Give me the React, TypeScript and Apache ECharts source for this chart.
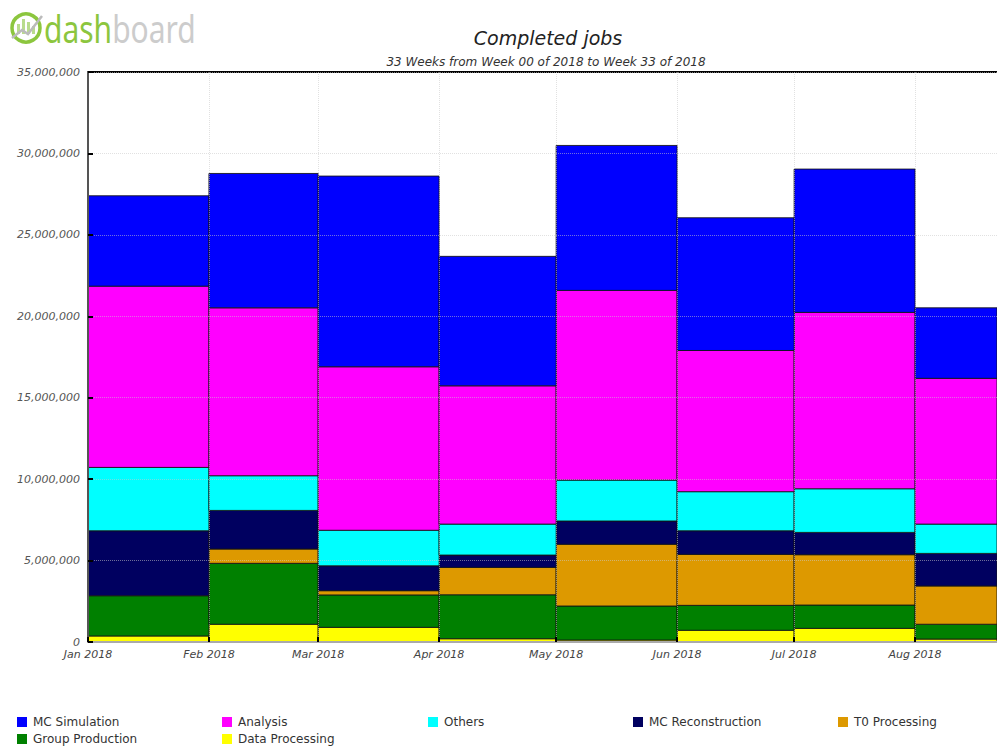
import React, { useEffect, useRef } from "react";
import * as echarts from "echarts";

const MONTH_STARTS = ["2018-01-01", "2018-02-01", "2018-03-01", "2018-04-01", "2018-05-01", "2018-06-01", "2018-07-01", "2018-08-01"];
const MONTH_ENDS = ["2018-02-01", "2018-03-01", "2018-04-01", "2018-05-01", "2018-06-01", "2018-07-01", "2018-08-01", "2018-09-01"];
const X_MIN = "2018-01-01";
const X_MAX = "2018-08-22";
const MONTH_NAMES = ["Jan", "Feb", "Mar", "Apr", "May", "Jun", "Jul", "Aug", "Sep", "Oct", "Nov", "Dec"];

// values per month (Jan..Aug 2018)
const mcSimulation = [5550000, 8250000, 11710000, 7950000, 8900000, 8150000, 8800000, 4330000];
const analysis = [11130000, 10310000, 10040000, 8490000, 11650000, 8670000, 10830000, 8950000];
const others = [3890000, 2130000, 2180000, 1900000, 2510000, 2400000, 2680000, 1800000];
const mcReconstruction = [3990000, 2370000, 1530000, 760000, 1430000, 1450000, 1370000, 2000000];
const t0Processing = [0, 880000, 260000, 1680000, 3790000, 3130000, 3090000, 2350000];
const groupProduction = [2470000, 3740000, 1990000, 2700000, 2090000, 1530000, 1430000, 910000];
const dataProcessing = [370000, 1090000, 900000, 200000, 120000, 720000, 840000, 180000];

// stacking order: bottom -> top
const STACK = [
  { name: "Data Processing", color: "#ffff00", values: dataProcessing },
  { name: "Group Production", color: "#008000", values: groupProduction },
  { name: "T0 Processing", color: "#dd9900", values: t0Processing },
  { name: "MC Reconstruction", color: "#000060", values: mcReconstruction },
  { name: "Others", color: "#00ffff", values: others },
  { name: "Analysis", color: "#ff00ff", values: analysis },
  { name: "MC Simulation", color: "#0000ff", values: mcSimulation },
];

const LEGEND_ROW1 = ["MC Simulation", "Analysis", "Others", "MC Reconstruction", "T0 Processing"];
const LEGEND_ROW2 = ["Group Production", "Data Processing"];
const LEGEND_COLS = [17, 222, 428, 633, 838];

const Y_MAX = 35000000;
const Y_STEP = 5000000;

const ts = (s: string) => {
  const [y, m, d] = s.split("-").map(Number);
  return Date.UTC(y, m - 1, d);
};

const fmtNum = (v: number) => String(Math.round(v)).replace(/\B(?=(\d{3})+(?!\d))/g, ",");

export default function App() {
  const ref = useRef<HTMLDivElement>(null);
  useEffect(() => {
    if (!ref.current) return;
    const chart = echarts.init(ref.current, null, { renderer: "svg" });

    const cum = MONTH_STARTS.map(() => 0);
    const series: any[] = STACK.map((s) => {
      const data = MONTH_STARTS.map((m, i) => {
        const lo = cum[i];
        const hi = lo + s.values[i];
        cum[i] = hi;
        return [ts(m), ts(MONTH_ENDS[i]), lo, hi];
      });
      return {
        type: "custom",
        name: s.name,
        itemStyle: { color: s.color },
        encode: { x: [0, 1], y: [2, 3] },
        z: 2,
        data,
        renderItem: (params: any, api: any) => {
          const p1 = api.coord([api.value(0), api.value(3)]);
          const p2 = api.coord([api.value(1), api.value(2)]);
          const cs = params.coordSys;
          const shape = echarts.graphic.clipRectByRect(
            { x: p1[0], y: p1[1], width: p2[0] - p1[0], height: p2[1] - p1[1] },
            { x: cs.x, y: cs.y, width: cs.width, height: cs.height }
          );
          if (!shape || api.value(3) - api.value(2) <= 0) return null;
          return {
            type: "rect",
            shape,
            style: { fill: api.visual("color"), stroke: "rgba(20,20,20,0.85)", lineWidth: 1 },
          };
        },
      };
    });

    const legendText = { fontFamily: "DejaVu Sans", fontSize: 12, lineHeight: 12, color: "#333", padding: [0, 0, 0, 1] };
    const legends: any[] = [];
    LEGEND_ROW1.forEach((n, i) =>
      legends.push({ data: [n], left: LEGEND_COLS[i], top: 716, itemWidth: 10, itemHeight: 10, icon: "rect", textStyle: legendText, padding: 0, selectedMode: false })
    );
    LEGEND_ROW2.forEach((n, i) =>
      legends.push({ data: [n], left: LEGEND_COLS[i], top: 733, itemWidth: 10, itemHeight: 10, icon: "rect", textStyle: legendText, padding: 0, selectedMode: false })
    );

    const green = "#8cc63e";
    chart.setOption({
      animation: false,
      useUTC: true,
      backgroundColor: "#fff",
      grid: { left: 88, top: 72, right: 0, bottom: 105 },
      legend: legends,
      graphic: [
        { type: "circle", shape: { cx: 26, cy: 28, r: 14 }, style: { fill: "none", stroke: green, lineWidth: 3.5 } },
        { type: "rect", shape: { x: 17, y: 24, width: 3, height: 10 }, style: { fill: "#b9dc8c" } },
        { type: "rect", shape: { x: 22, y: 19, width: 3, height: 15 }, style: { fill: "#b9dc8c" } },
        { type: "rect", shape: { x: 27, y: 22, width: 3, height: 12 }, style: { fill: "#b9dc8c" } },
        { type: "rect", shape: { x: 32, y: 26, width: 3, height: 8 }, style: { fill: "#b9dc8c" } },
        { type: "polyline", shape: { points: [[12, 38], [22, 30], [28, 34], [42, 16]] }, style: { fill: "none", stroke: "#bbbbbb", lineWidth: 2.5 } },
        {
          type: "text",
          x: 44,
          y: 29,
          scaleY: 1.25,
          style: {
            text: "{g|dash}{b|board}",
            verticalAlign: "middle",
            rich: {
              g: { fontFamily: "Noto Sans", fontSize: 30, fill: green, color: green },
              b: { fontFamily: "Noto Sans", fontSize: 30, fill: "#cccccc", color: "#cccccc" },
            },
          },
        },
        {
          type: "text",
          x: 548,
          y: 38,
          style: { text: "Completed jobs", fontFamily: "DejaVu Sans", fontStyle: "italic", fontSize: 19, fill: "#222", align: "center", verticalAlign: "middle" },
        },
        {
          type: "text",
          x: 546,
          y: 62,
          style: { text: "33 Weeks from Week 00 of 2018 to Week 33 of 2018", fontFamily: "DejaVu Sans", fontStyle: "italic", fontSize: 12, fill: "#333", align: "center", verticalAlign: "middle" },
        },
      ],
      xAxis: [
        {
          type: "time",
          min: ts(X_MIN),
          max: ts(X_MAX),
          minInterval: 28 * 86400000,
          z: 3,
          axisLine: { lineStyle: { color: "#aaaaaa", width: 2 } },
          axisTick: { inside: true, length: 5, lineStyle: { color: "#000", width: 2 } },
          axisLabel: {
            fontFamily: "DejaVu Sans",
            fontStyle: "italic",
            fontSize: 11,
            color: "#444",
            margin: 7,
            showMaxLabel: false,
            formatter: (v: number) => {
              const d = new Date(v);
              return MONTH_NAMES[d.getUTCMonth()] + " " + d.getUTCFullYear();
            },
          },
          splitLine: { show: true, lineStyle: { color: "rgba(200,200,200,0.55)", type: "dotted" } },
        },
        {
          type: "time",
          position: "top",
          min: ts(X_MIN),
          max: ts(X_MAX),
          axisLine: { lineStyle: { color: "#000", width: 2 } },
          axisTick: { show: false },
          axisLabel: { show: false },
          splitLine: { show: false },
        },
      ],
      yAxis: {
        type: "value",
        min: 0,
        max: Y_MAX,
        interval: Y_STEP,
        z: 3,
        axisLine: { show: true, lineStyle: { color: "#555", width: 2 } },
        axisTick: { show: true, inside: true, length: 5, lineStyle: { color: "#000", width: 2 } },
        axisLabel: {
          fontFamily: "DejaVu Sans",
          fontStyle: "italic",
          fontSize: 11,
          color: "#555",
          margin: 8,
          formatter: (v: number) => fmtNum(v),
        },
        splitLine: { show: true, lineStyle: { color: "rgba(200,200,200,0.55)", type: "dotted" } },
      },
      series,
    });
    return () => chart.dispose();
  }, []);

  return (
    <div style={{ position: "fixed", left: 0, top: 0, width: 997, height: 747, overflow: "hidden", background: "#fff" }}>
      <div ref={ref} style={{ width: 997, height: 747 }} />
    </div>
  );
}
